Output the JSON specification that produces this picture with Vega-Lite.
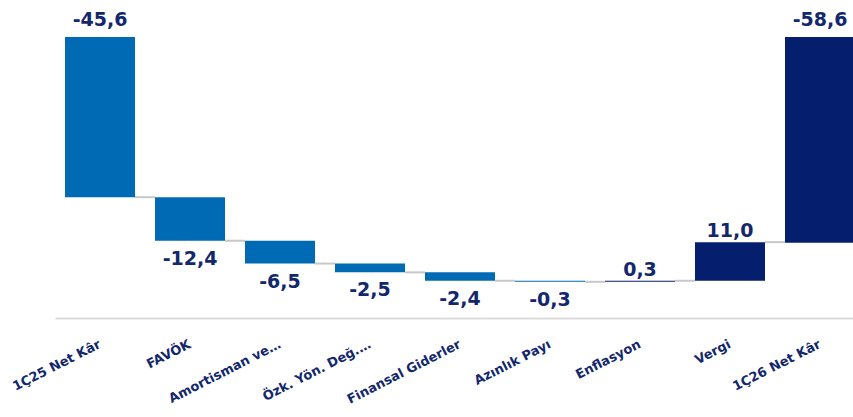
{
  "$schema": "https://vega.github.io/schema/vega-lite/v6.json",
  "width": 798,
  "height": 281,
  "autosize": {"type": "none"},
  "padding": {"left": 55, "top": 37, "right": 0, "bottom": 99},
  "background": "white",
  "config": {"view": {"stroke": null}},
  "data": {
    "values": [
      {"label": "1Ç25 Net Kâr", "start": 0, "end": -45.6, "text": "-45,6", "kind": "blue", "pos": "total", "next": "FAVÖK"},
      {"label": "FAVÖK", "start": -45.6, "end": -58.0, "text": "-12,4", "kind": "blue", "pos": "below", "next": "Amortisman ve…"},
      {"label": "Amortisman ve…", "start": -58.0, "end": -64.5, "text": "-6,5", "kind": "blue", "pos": "below", "next": "Özk. Yön. Değ.…"},
      {"label": "Özk. Yön. Değ.…", "start": -64.5, "end": -67.0, "text": "-2,5", "kind": "blue", "pos": "below", "next": "Finansal Giderler"},
      {"label": "Finansal Giderler", "start": -67.0, "end": -69.4, "text": "-2,4", "kind": "blue", "pos": "below", "next": "Azınlık Payı"},
      {"label": "Azınlık Payı", "start": -69.4, "end": -69.7, "text": "-0,3", "kind": "blue", "pos": "below", "next": "Enflasyon"},
      {"label": "Enflasyon", "start": -69.7, "end": -69.4, "text": "0,3", "kind": "navy", "pos": "above", "next": "Vergi"},
      {"label": "Vergi", "start": -69.4, "end": -58.4, "text": "11,0", "kind": "navy", "pos": "above", "next": "1Ç26 Net Kâr"},
      {"label": "1Ç26 Net Kâr", "start": 0, "end": -58.6, "text": "-58,6", "kind": "navy", "pos": "total", "next": null}
    ]
  },
  "layer": [
    {
      "transform": [{"filter": "datum.next != null"}],
      "mark": {"type": "rule", "color": "#c8c8c8", "strokeWidth": 2},
      "encoding": {
        "x": {"field": "label", "type": "nominal", "sort": null, "bandPosition": 1,
              "scale": {"range": [0, 810], "paddingInner": 0.2222, "paddingOuter": 0.1111}},
        "x2": {"field": "next", "bandPosition": 0},
        "y": {"field": "end", "type": "quantitative", "scale": {"domain": [-80, 0], "nice": false}, "axis": null}
      }
    },
    {
      "mark": {"type": "bar"},
      "encoding": {
        "x": {"field": "label", "type": "nominal", "sort": null,
              "scale": {"range": [0, 810], "paddingInner": 0.2222, "paddingOuter": 0.1111},
              "axis": {"title": null, "labelAngle": -27, "labelAlign": "right", "labelBaseline": "middle",
                       "labelFont": "DejaVu Sans", "labelFontWeight": "bold", "labelFontSize": 13,
                       "labelColor": "#13286c", "ticks": false, "domainColor": "#dcdcdc", "domainWidth": 2,
                       "labelPadding": 25, "labelDx": -2, "grid": false, "labelOverlap": false, "labelLimit": 0}},
        "y": {"field": "start", "type": "quantitative", "scale": {"domain": [-80, 0], "nice": false}, "axis": null},
        "y2": {"field": "end"},
        "color": {"field": "kind", "type": "nominal", "scale": {"domain": ["blue", "navy"], "range": ["#006ab4", "#061e6e"]}, "legend": null}
      }
    },
    {
      "transform": [{"filter": "datum.pos == 'below'"}],
      "mark": {"type": "text", "font": "DejaVu Sans", "fontWeight": "bold", "fontSize": 19, "color": "#13286c", "baseline": "alphabetic", "dy": 24},
      "encoding": {
        "x": {"field": "label", "type": "nominal", "sort": null},
        "y": {"field": "end", "type": "quantitative"},
        "text": {"field": "text"}
      }
    },
    {
      "transform": [{"filter": "datum.pos == 'above'"}],
      "mark": {"type": "text", "font": "DejaVu Sans", "fontWeight": "bold", "fontSize": 19, "color": "#13286c", "baseline": "alphabetic", "dy": -5},
      "encoding": {
        "x": {"field": "label", "type": "nominal", "sort": null},
        "y": {"field": "end", "type": "quantitative"},
        "text": {"field": "text"}
      }
    },
    {
      "transform": [{"filter": "datum.pos == 'total'"}],
      "mark": {"type": "text", "font": "DejaVu Sans", "fontWeight": "bold", "fontSize": 19, "color": "#13286c", "baseline": "alphabetic", "dy": -11},
      "encoding": {
        "x": {"field": "label", "type": "nominal", "sort": null},
        "y": {"field": "start", "type": "quantitative"},
        "text": {"field": "text"}
      }
    }
  ]
}
